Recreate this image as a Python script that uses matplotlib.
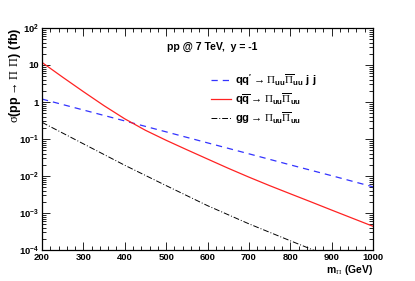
import matplotlib
matplotlib.use("Agg")
import matplotlib.pyplot as plt
from matplotlib.ticker import FixedLocator, LogLocator, NullFormatter

plt.rcParams['mathtext.fontset'] = 'custom'
plt.rcParams['mathtext.rm'] = 'Liberation Serif'
plt.rcParams['mathtext.bf'] = 'Liberation Sans:bold'
plt.rcParams['mathtext.sf'] = 'Liberation Sans'
plt.rcParams['mathtext.default'] = 'rm'
plt.rcParams['font.family'] = ['Liberation Sans', 'DejaVu Sans']

# ---- data ----
mass_qqbar = [200, 250, 300, 350, 400, 450, 500, 550, 600, 650, 700, 750, 800, 850, 900, 950, 1000]
sigma_qqbar = [11.75, 4.68, 1.905, 0.794, 0.351, 0.172, 0.0923, 0.0513, 0.0288, 0.0162,
               0.00933, 0.0055, 0.00331, 0.0020, 0.0012, 0.000724, 0.000437]
mass_qqp = [200, 300, 400, 500, 600, 700, 800, 900, 1000]
sigma_qqp = [1.20, 0.608, 0.308, 0.156, 0.0787, 0.0398, 0.0200, 0.0102, 0.0051]
mass_gg = [200, 300, 400, 500, 600, 700, 800, 900, 1000]
sigma_gg = [0.282, 0.0741, 0.0195, 0.0055, 0.00158, 0.00051, 0.000178, 0.000063, 0.000023]

x_ticks = [200, 300, 400, 500, 600, 700, 800, 900, 1000]
y_ticks = [1e-4, 1e-3, 1e-2, 1e-1, 1, 10, 100]
y_tick_labels = [r'$\mathbf{10^{-4}}$', r'$\mathbf{10^{-3}}$', r'$\mathbf{10^{-2}}$',
                 r'$\mathbf{10^{-1}}$', '1', '10', r'$\mathbf{10^{2}}$']

lab_qqp = r"$\mathbf{qq'}\rightarrow\Pi_{\mathbf{uu}}\overline{\Pi}_{\mathbf{uu}}\ \mathbf{j}\ \mathbf{j}$"
lab_qqbar = r"$\mathbf{q\overline{q}}\rightarrow\Pi_{\mathbf{uu}}\overline{\Pi}_{\mathbf{uu}}$"
lab_gg = r"$\mathbf{gg}\rightarrow\Pi_{\mathbf{uu}}\overline{\Pi}_{\mathbf{uu}}$"

W, H = 415, 281
fig = plt.figure(figsize=(W / 100, H / 100), dpi=100)
ax = fig.add_axes([42 / W, 1 - 250 / H, (373 - 42) / W, (250 - 28) / H])

l1, = ax.plot(mass_qqp, sigma_qqp, color='#3333ff', lw=0.9, ls=(0, (5, 4)))
l2, = ax.plot(mass_qqbar, sigma_qqbar, color='#ff2222', lw=0.9)
l3, = ax.plot(mass_gg, sigma_gg, color='black', lw=0.7, ls=(0, (6, 2, 1, 2)))

ax.set_yscale('log')
ax.set_xlim(200, 1000)
ax.set_ylim(1e-4, 1e2)

ax.xaxis.set_major_locator(FixedLocator(x_ticks))
ax.xaxis.set_minor_locator(FixedLocator(list(range(200, 1001, 20))))
ax.set_xticklabels([str(v) for v in x_ticks], fontsize=6.8, fontweight='bold')
ax.yaxis.set_major_locator(FixedLocator(y_ticks))
ax.set_yticklabels(y_tick_labels, fontsize=6.8, fontweight='bold')
ax.yaxis.set_minor_locator(LogLocator(base=10, subs=range(2, 10), numticks=20))
ax.yaxis.set_minor_formatter(NullFormatter())

ax.tick_params(which='both', direction='in', top=True, right=True, width=0.6)
ax.tick_params(which='major', length=6, pad=2)
ax.tick_params(which='minor', length=3)
for s in ax.spines.values():
    s.set_linewidth(0.9)

fig.text(15 / W, 1 - 28 / H, r"$\sigma\mathbf{(pp}\rightarrow\Pi\ \Pi\mathbf{)\ (fb)}$",
         rotation=90, ha='center', va='top', fontsize=9)
fig.text(373 / W, 1 - 270 / H, r"$\mathbf{m}_{\Pi}\ \mathbf{(GeV)}$",
         ha='right', va='center', fontsize=7.5)
fig.text(212 / W, 1 - 47 / H, "pp @ 7 TeV,  y = -1", ha='center', va='center',
         fontsize=7.6, fontweight='bold')

ax.legend([l1, l2, l3], [lab_qqp, lab_qqbar, lab_gg], frameon=False, fontsize=8,
          loc='upper left', bbox_to_anchor=(211 / W, 1 - 72 / H), bbox_transform=fig.transFigure,
          handlelength=1.8, handletextpad=0.35, labelspacing=0.3, borderpad=0, borderaxespad=0)

fig.savefig('out.png', dpi=100)
